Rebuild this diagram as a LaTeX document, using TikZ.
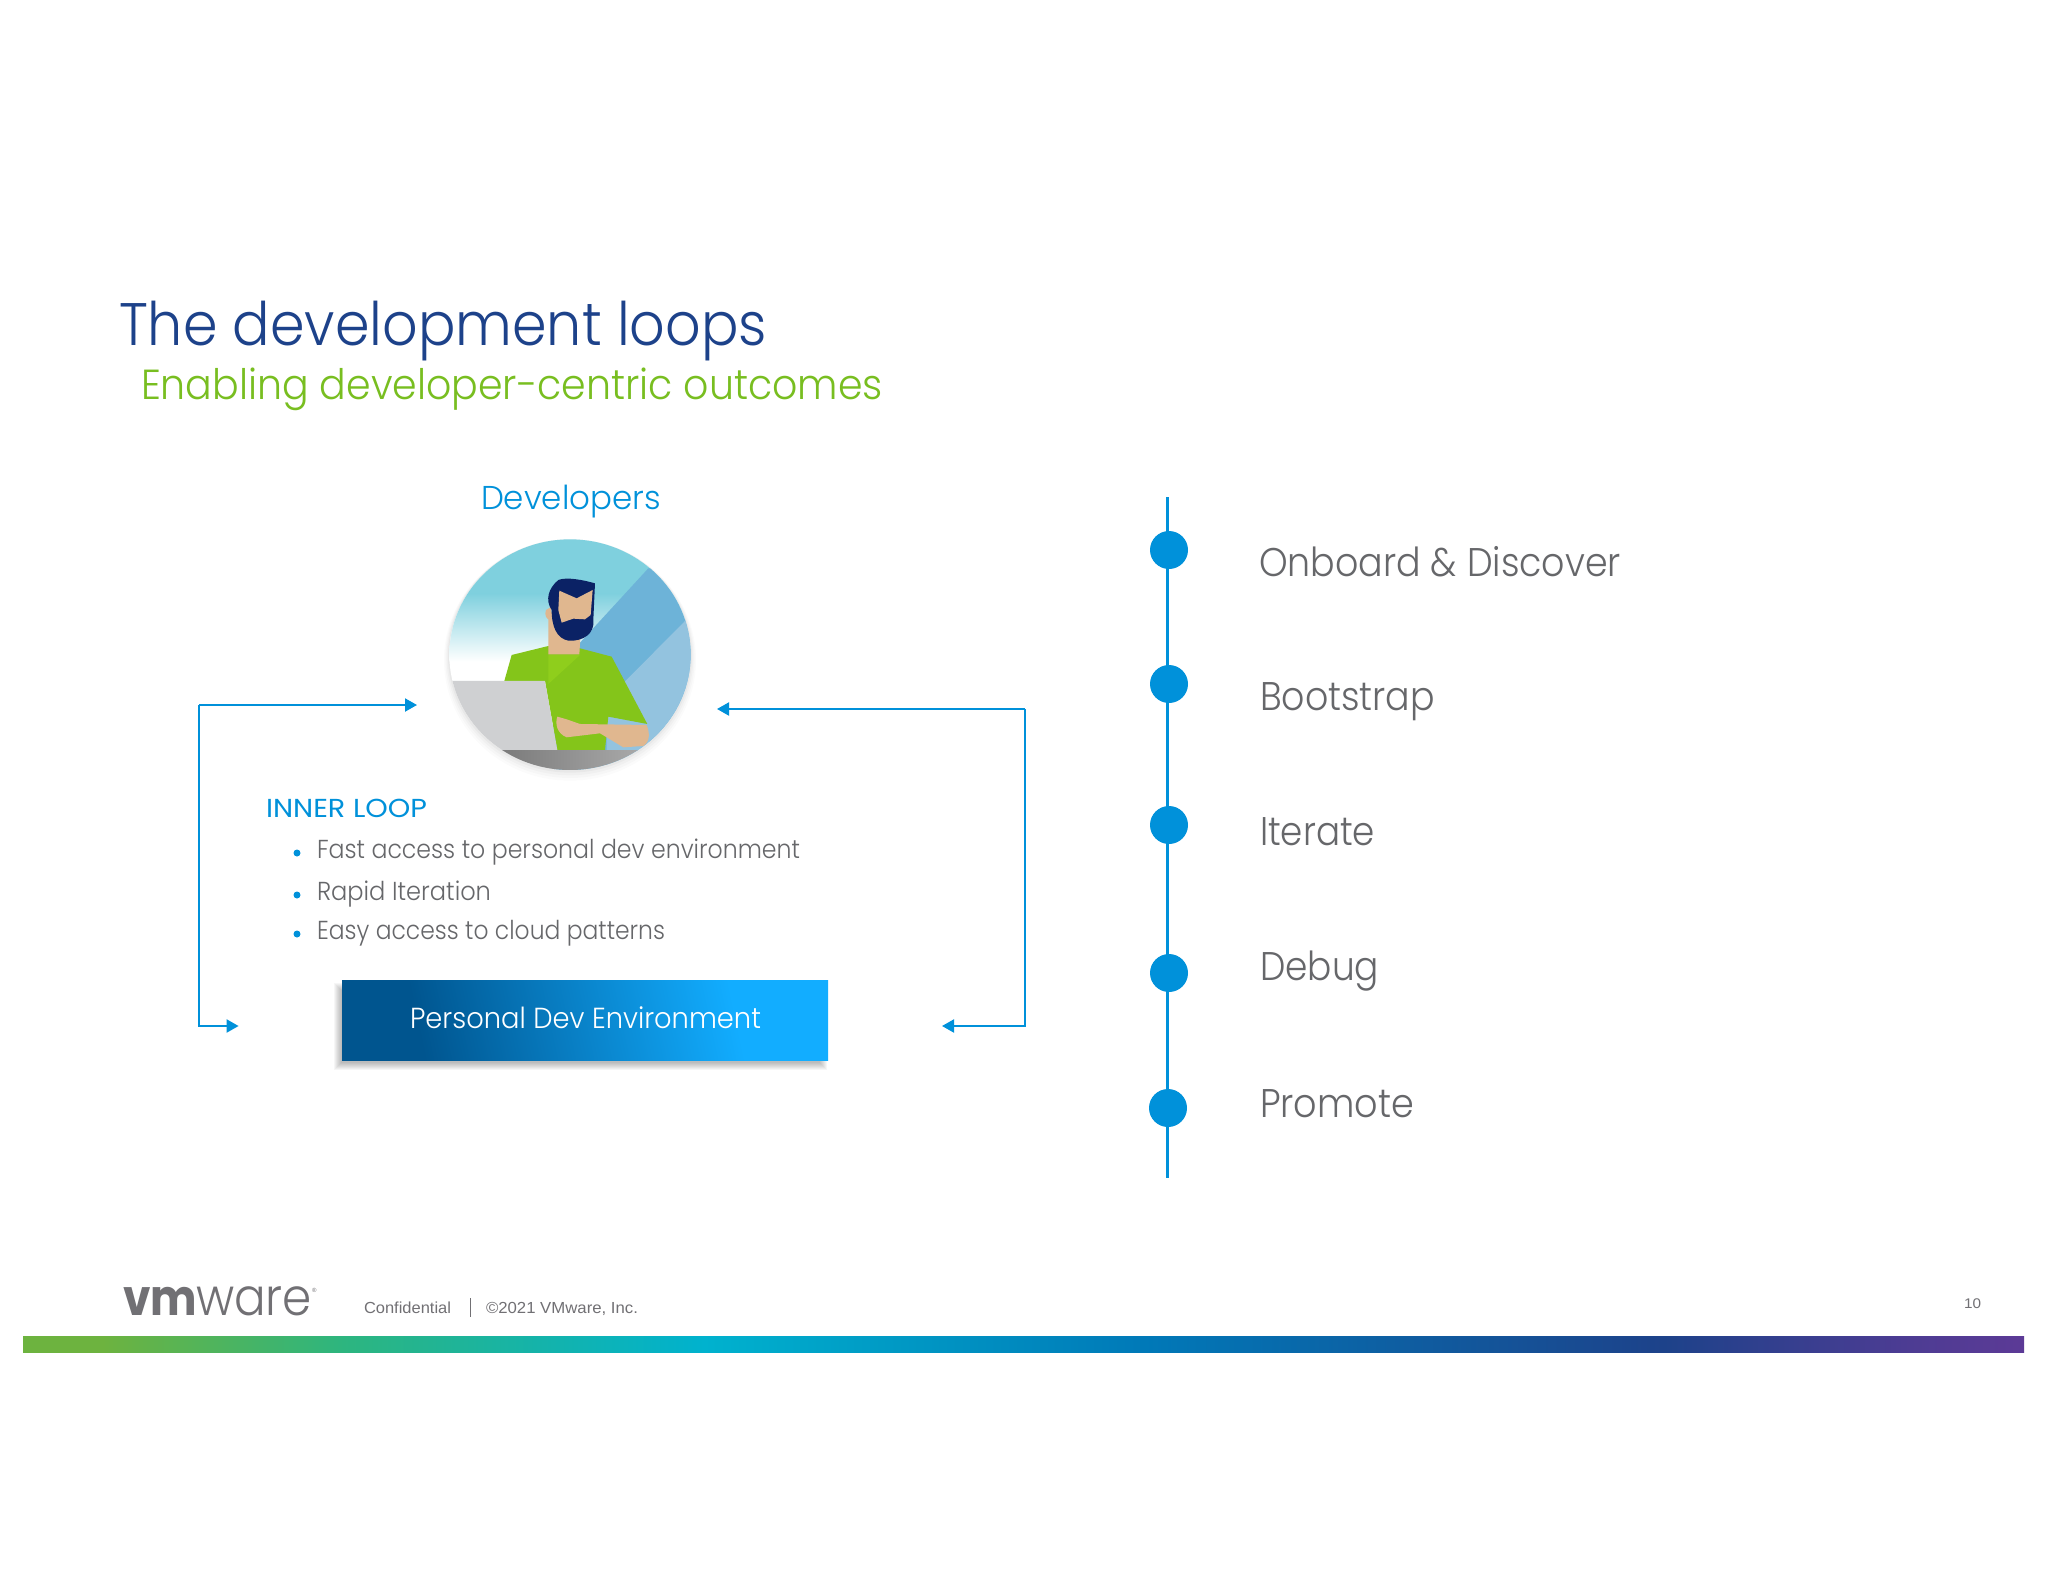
\documentclass[tikz,border=0pt]{standalone}
\usepackage{graphicx}
\usepackage{fontspec}
\setmainfont{Poppins Light}
\newfontfamily\heavyf{Poppins Bold}
\newfontfamily\midf{Poppins}
\newfontfamily\footf{Liberation Sans}
\usetikzlibrary{arrows.meta}
\definecolor{navy}{HTML}{1D428A}
\definecolor{lime}{HTML}{78BE20}
\definecolor{vmblue}{HTML}{0091DA}
\definecolor{bodygray}{HTML}{66676A}
\definecolor{footgray}{HTML}{717074}
\definecolor{skin}{HTML}{E0B78F}
\definecolor{hairnavy}{HTML}{0B2265}
\definecolor{barA}{HTML}{6DB33F}
\definecolor{barB}{HTML}{2DB57F}
\definecolor{barC}{HTML}{00B2CE}
\definecolor{barD}{HTML}{0079B8}
\definecolor{barE}{HTML}{5C3A96}
\definecolor{boxd}{HTML}{00558F}
\definecolor{boxl}{HTML}{12ADFF}
\definecolor{sky}{HTML}{7FD0DE}
\definecolor{skyb}{HTML}{6DB3D8}
\definecolor{skyc}{HTML}{93C3DF}
\definecolor{shirt}{HTML}{84C51A}
\definecolor{shirtl}{HTML}{8FCE1C}
\definecolor{lapt}{HTML}{CFD0D2}
\pgfdeclarehorizontalshading{barshade}{100bp}{color(0bp)=(barA); color(27bp)=(barA); color(33bp)=(barB); color(42bp)=(barC); color(53bp)=(barD); color(66bp)=(navy); color(72bp)=(barE!75!navy); color(75bp)=(barE); color(100bp)=(barE)}
\pgfdeclarehorizontalshading{boxshade}{100bp}{color(0bp)=(boxd); color(30bp)=(boxd); color(68bp)=(boxl); color(100bp)=(boxl)}
\newsavebox\fitbox
\newcommand\fitw[3]{\sbox\fitbox{\fontsize{#2}{#2}\selectfont #3}\pgfmathsetmacro\fitr{#1/\wd\fitbox}\scalebox{\fitr}[1]{\usebox\fitbox}}
\tikzset{
  txt/.style={inner sep=0pt,outer sep=0pt,anchor=base west},
  loopline/.style={draw=vmblue,line width=2pt,-{Triangle[length=12pt,width=13pt]}},
  milestone/.style={circle,fill=vmblue,inner sep=0pt,minimum width=38pt},
}
\begin{document}
\begin{tikzpicture}[x=1pt,y=-1pt]
\useasboundingbox (0,0) rectangle (2048,1582);
\fill[white] (0,0) rectangle (2048,1582);
% titles
\node[txt,text=navy] (title) at (119,345) {\fitw{648}{60}{The development loops}};
\node[txt,text=lime] (subtitle) at (141,399.5) {\fitw{742}{42}{Enabling developer-centric outcomes}};
\node[txt,text=vmblue] (devs) at (481,509) {\fitw{180}{33}{Developers}};
% developer circle
\begin{scope}[shift={(420,520)},x=0.3333pt,y=-0.3333pt]
\foreach \o/\d in {0.015/16,0.02/12,0.025/8,0.03/4}{\fill[black,opacity=\o] (450,404+\d) ellipse [x radius=362+\d,y radius=346+\d];}
\begin{scope}
\clip (450,404) ellipse [x radius=362,y radius=346];
\fill[white] (80,50) rectangle (820,760);
\fill[sky] (80,50) rectangle (820,220);
\shade[top color=sky,bottom color=white] (80,220) rectangle (820,425);
\fill[skyb] (685,145) -- (820,145) -- (820,760) -- (400,760) -- (400,455) -- cycle;
\fill[skyc] (800,298) -- (820,298) -- (820,760) -- (560,760) -- (560,540) -- cycle;
\fill[shirt] (253,483) -- (275,405) -- (385,378) -- (480,385) -- (575,410) -- (682,612) -- (565,590) -- (555,690) -- (412,690) -- (375,483) -- cycle;
\fill[shirtl] (385,405) -- (480,405) -- (385,492) -- cycle;
\fill[skin] (385,270) -- (385,403) -- (478,403) -- (482,340) -- cycle;
\fill[skin] (378,270) .. controls (372,285) and (380,300) .. (392,300) -- (395,260) -- cycle;
\fill[skin] (412,590) .. controls (405,610) and (410,640) .. (440,652) -- (540,640) -- (610,682) -- (670,678) .. controls (690,665) and (690,640) .. (680,615) -- (480,612) -- (440,598) -- cycle;
\fill[hairnavy] (395,270) .. controls (375,240) and (385,205) .. (415,180) .. controls (440,170) and (490,180) .. (525,190) -- (520,300) .. controls (525,340) and (490,365) .. (445,362) .. controls (410,355) and (395,320) .. (395,270) -- cycle;
\fill[skin] (418,212) -- (470,235) -- (518,210) -- (512,285) -- (495,298) -- (460,296) -- (425,308) -- (415,270) -- cycle;
\fill[lapt] (60,483) -- (375,483) -- (412,690) -- (412,780) -- (60,780) -- cycle;
\shade[left color=black!52!white,right color=black!32!white] (240,692) rectangle (700,780);
\end{scope}
\end{scope}
% inner loop text
\node[txt,text=vmblue] (inner) at (266,817) {\fitw{161}{26}{\midf INNER LOOP}};
\node[txt,text=bodygray] (b1) at (317,858) {\fitw{483}{26}{Fast access to personal dev environment}};
\node[txt,text=bodygray] (b2) at (317,900) {\fitw{174}{26}{Rapid Iteration}};
\node[txt,text=bodygray] (b3) at (317,939) {\fitw{348}{26}{Easy access to cloud patterns}};
\foreach \n/\y in {d1/853,d2/895,d3/934}{\node[circle,fill=vmblue,inner sep=0pt,minimum width=7pt] (\n) at (297,\y) {};}
% personal dev box
\foreach \d in {0,1,...,7}{\fill[black,opacity=0.035] (341-\d,990-\d) rectangle (820+\d,1063+\d);}
\node[inner sep=0pt,outer sep=0pt,minimum width=486pt,minimum height=80pt,shading=boxshade,shading angle=12] (pde) at (585,1020) {};
\node[txt,text=white] (pdetxt) at (410,1028) {\fitw{351}{29}{Personal Dev Environment}};
% loop connectors
\coordinate (la) at (417,705);
\coordinate (lc) at (199,705);
\coordinate (ld) at (199,1026);
\coordinate (lb) at (238.6,1026);
\coordinate (ra) at (717,709);
\coordinate (rc) at (1025,709);
\coordinate (rd) at (1025,1026);
\coordinate (rb) at (942,1026);
\draw[loopline] (lc) -- (la);
\draw[loopline] (lc) -- (ld) -- (lb);
\draw[loopline] (rc) -- (ra);
\draw[loopline] (rc) -- (rd) -- (rb);
% timeline
\coordinate (tlTop) at (1167,497);
\coordinate (tlBot) at (1167,1178);
\draw[vmblue,line width=3pt] (tlTop) -- (tlBot);
\node[milestone] (m1) at (1169,550) {};
\node[milestone] (m2) at (1169,684) {};
\node[milestone] (m3) at (1169,825) {};
\node[milestone] (m4) at (1169,973) {};
\node[milestone] (m5) at (1168,1108) {};
\node[txt,text=bodygray] (l1) at (1259,576) {\fitw{362}{40}{Onboard \& Discover}};
\node[txt,text=bodygray] (l2) at (1260,710) {\fitw{175}{40}{Bootstrap}};
\node[txt,text=bodygray] (l3) at (1260,845) {\fitw{115}{40}{Iterate}};
\node[txt,text=bodygray] (l4) at (1260,980) {\fitw{119}{40}{Debug}};
\node[txt,text=bodygray] (l5) at (1260,1117) {\fitw{154}{40}{Promote}};
% footer
\node[txt,text=footgray] (vm) at (123,1315) {\fitw{74}{50}{\heavyf vm}};
\node[txt,text=footgray] (ware) at (196,1315) {\fitw{116}{52}{ware}};
\node[txt,text=footgray] (reg) at (312,1292) {\fontsize{6}{6}\selectfont\footf ®};
\node[txt,text=footgray] (conf) at (364,1313) {\fitw{87}{16}{\footf Confidential}};
\draw[footgray,line width=1pt] (470,1298) -- (470,1317);
\node[txt,text=footgray] (copy) at (486,1313) {\fitw{152}{16}{\footf ©2021 VMware, Inc.}};
\node[txt,text=footgray] (page) at (1964,1308) {\fitw{17}{14}{\footf 10}};
\fill[shading=barshade] (23,1336) rectangle (2024,1352);
\end{tikzpicture}
\end{document}
